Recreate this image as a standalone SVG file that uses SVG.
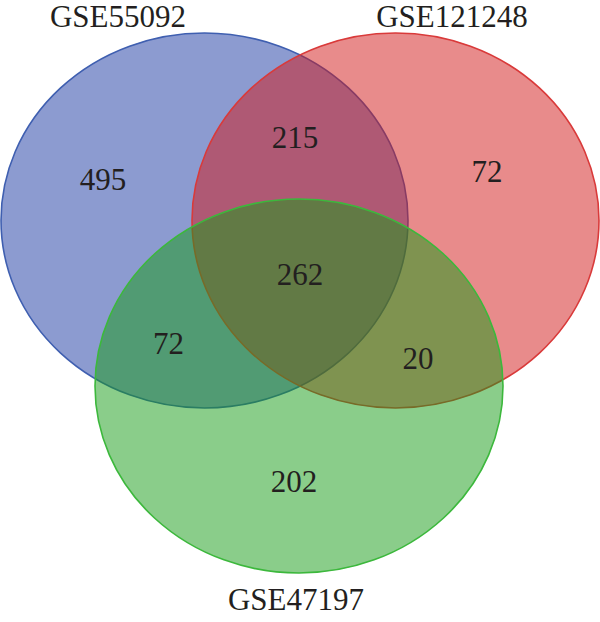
<svg xmlns="http://www.w3.org/2000/svg" width="600" height="622" viewBox="0 0 600 622">
<style>
.set{stroke-width:1.6}
.lbl{font-family:"Liberation Serif","Times New Roman",serif;font-size:31px;fill:#231f20;text-anchor:middle}
.num{font-family:"Liberation Serif","Times New Roman",serif;font-size:31px;fill:#231f20;text-anchor:middle}
</style>
<rect width="600" height="622" fill="#ffffff"/>
<g id="GSE55092">
<ellipse class="set" cx="204.5" cy="220.5" rx="203.5" ry="187.5" fill="#1a37a2" fill-opacity="0.5" stroke="#3f5fb0"/>
<text class="lbl" x="118" y="27">GSE55092</text>
</g>
<g id="GSE121248">
<ellipse class="set" cx="395.5" cy="220.5" rx="203.5" ry="187.5" fill="#d11717" fill-opacity="0.5" stroke="#d93a3a"/>
<text class="lbl" x="452" y="27">GSE121248</text>
</g>
<g id="GSE47197">
<ellipse class="set" cx="299" cy="386" rx="204" ry="187" fill="#159b15" fill-opacity="0.5" stroke="#3cb83c"/>
<text class="lbl" x="296" y="610">GSE47197</text>
</g>
<g id="counts">
<text class="num" x="103" y="190">495</text>
<text class="num" x="295" y="148">215</text>
<text class="num" x="487" y="182">72</text>
<text class="num" x="300" y="285">262</text>
<text class="num" x="168.5" y="354">72</text>
<text class="num" x="418" y="369">20</text>
<text class="num" x="294" y="492">202</text>
</g>
<g id="connectors"></g>
</svg>
